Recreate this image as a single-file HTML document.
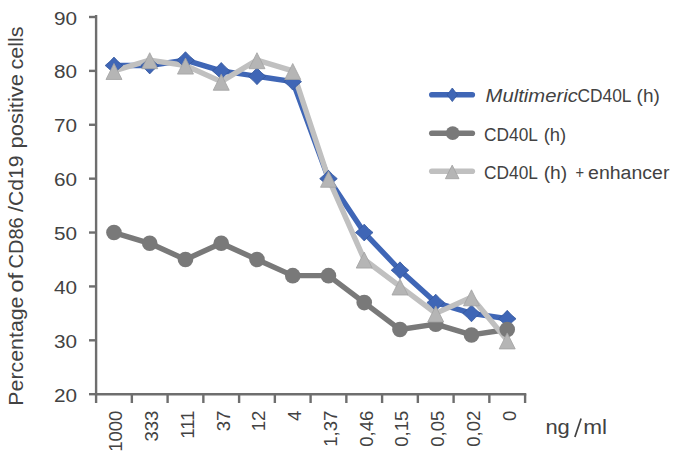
<!DOCTYPE html>
<html><head><meta charset="utf-8"><style>
html,body{margin:0;padding:0;background:#fff;}
body{width:680px;height:462px;overflow:hidden;}
svg{display:block;}
</style></head><body>
<svg width="680" height="462" viewBox="0 0 680 462">
<g stroke="#6E6E6E" stroke-width="2.4" fill="none">
<path d="M96.1,15.1 V394.2"/>
<path d="M89,394.20 H96.1"/>
<path d="M89,340.31 H96.1"/>
<path d="M89,286.43 H96.1"/>
<path d="M89,232.54 H96.1"/>
<path d="M89,178.66 H96.1"/>
<path d="M89,124.77 H96.1"/>
<path d="M89,70.89 H96.1"/>
<path d="M89,17.00 H96.1"/>
<path d="M94.89999999999999,394.2 H526.3000000000001"/>
<path d="M96.10,394.2 V403"/>
<path d="M131.85,394.2 V403"/>
<path d="M167.60,394.2 V403"/>
<path d="M203.35,394.2 V403"/>
<path d="M239.10,394.2 V403"/>
<path d="M274.85,394.2 V403"/>
<path d="M310.60,394.2 V403"/>
<path d="M346.35,394.2 V403"/>
<path d="M382.10,394.2 V403"/>
<path d="M417.85,394.2 V403"/>
<path d="M453.60,394.2 V403"/>
<path d="M489.35,394.2 V403"/>
<path d="M525.10,394.2 V403"/>
</g>
<g font-family="Liberation Sans, sans-serif" font-size="18.5" fill="#424242" text-anchor="end">
<text transform="translate(77.0,401.70) scale(1.12,1)">20</text>
<text transform="translate(77.0,347.81) scale(1.12,1)">30</text>
<text transform="translate(77.0,293.93) scale(1.12,1)">40</text>
<text transform="translate(77.0,240.04) scale(1.12,1)">50</text>
<text transform="translate(77.0,186.16) scale(1.12,1)">60</text>
<text transform="translate(77.0,132.27) scale(1.12,1)">70</text>
<text transform="translate(77.0,78.39) scale(1.12,1)">80</text>
<text transform="translate(77.0,24.50) scale(1.12,1)">90</text>
</g>
<g font-family="Liberation Sans, sans-serif" font-size="18" fill="#424242" text-anchor="end">
<text transform="translate(122.38,410.6) rotate(-90) scale(1.03,1)">1000</text>
<text transform="translate(158.12,410.6) rotate(-90) scale(1.03,1)">333</text>
<text transform="translate(193.88,410.6) rotate(-90) scale(1.03,1)">111</text>
<text transform="translate(229.62,410.6) rotate(-90) scale(1.03,1)">37</text>
<text transform="translate(265.38,410.6) rotate(-90) scale(1.03,1)">12</text>
<text transform="translate(301.12,410.6) rotate(-90) scale(1.03,1)">4</text>
<text transform="translate(336.88,410.6) rotate(-90) scale(1.03,1)">1,37</text>
<text transform="translate(372.62,410.6) rotate(-90) scale(1.03,1)">0,46</text>
<text transform="translate(408.38,410.6) rotate(-90) scale(1.03,1)">0,15</text>
<text transform="translate(444.12,410.6) rotate(-90) scale(1.03,1)">0,05</text>
<text transform="translate(479.88,410.6) rotate(-90) scale(1.03,1)">0,02</text>
<text transform="translate(515.62,410.6) rotate(-90) scale(1.03,1)">0</text>
</g>
<text transform="translate(23.4,405.70) rotate(-90)" font-family="Liberation Sans, sans-serif" font-size="20" fill="#424242" textLength="109.2" lengthAdjust="spacingAndGlyphs">Percentage</text>
<text transform="translate(23.4,292.80) rotate(-90)" font-family="Liberation Sans, sans-serif" font-size="20" fill="#424242" textLength="19.9" lengthAdjust="spacingAndGlyphs">of</text>
<text transform="translate(23.4,268.50) rotate(-90)" font-family="Liberation Sans, sans-serif" font-size="20" fill="#424242" textLength="51.2" lengthAdjust="spacingAndGlyphs">CD86</text>
<text transform="translate(23.4,211.90) rotate(-90)" font-family="Liberation Sans, sans-serif" font-size="20" fill="#424242" textLength="56.4" lengthAdjust="spacingAndGlyphs">/Cd19</text>
<text transform="translate(23.4,148.50) rotate(-90)" font-family="Liberation Sans, sans-serif" font-size="20" fill="#424242" textLength="74.6" lengthAdjust="spacingAndGlyphs">positive</text>
<text transform="translate(23.4,69.60) rotate(-90)" font-family="Liberation Sans, sans-serif" font-size="20" fill="#424242" textLength="43.2" lengthAdjust="spacingAndGlyphs">cells</text>
<polyline points="113.97,65.50 149.72,65.50 185.47,60.11 221.22,70.89 256.98,76.27 292.73,81.66 328.48,178.66 364.23,232.54 399.98,270.26 435.73,302.59 471.48,313.37 507.23,318.76" fill="none" stroke="#3F66B6" stroke-width="5.4" stroke-linejoin="round" stroke-linecap="round"/>
<polyline points="113.97,232.54 149.72,243.32 185.47,259.49 221.22,243.32 256.98,259.49 292.73,275.65 328.48,275.65 364.23,302.59 399.98,329.54 435.73,324.15 471.48,334.93 507.23,329.54" fill="none" stroke="#797979" stroke-width="5.4" stroke-linejoin="round" stroke-linecap="round"/>
<polyline points="113.97,70.89 149.72,60.11 185.47,65.50 221.22,81.66 256.98,60.11 292.73,70.89 328.48,178.66 364.23,259.49 399.98,286.43 435.73,313.37 471.48,297.21 507.23,340.31" fill="none" stroke="#C0C0C0" stroke-width="5.4" stroke-linejoin="round" stroke-linecap="round"/>
<path d="M113.97,57.10 Q117.93,61.72 122.77,65.50 Q117.93,69.28 113.97,73.90 Q110.02,69.28 105.17,65.50 Q110.02,61.72 113.97,57.10Z" fill="#3F66B6" stroke="#34579C" stroke-width="0.8" stroke-linejoin="round"/>
<path d="M149.72,57.10 Q153.69,61.72 158.53,65.50 Q153.69,69.28 149.72,73.90 Q145.76,69.28 140.92,65.50 Q145.76,61.72 149.72,57.10Z" fill="#3F66B6" stroke="#34579C" stroke-width="0.8" stroke-linejoin="round"/>
<path d="M185.47,51.71 Q189.44,56.33 194.28,60.11 Q189.44,63.89 185.47,68.51 Q181.51,63.89 176.67,60.11 Q181.51,56.33 185.47,51.71Z" fill="#3F66B6" stroke="#34579C" stroke-width="0.8" stroke-linejoin="round"/>
<path d="M221.22,62.49 Q225.19,67.11 230.03,70.89 Q225.19,74.67 221.22,79.29 Q217.26,74.67 212.42,70.89 Q217.26,67.11 221.22,62.49Z" fill="#3F66B6" stroke="#34579C" stroke-width="0.8" stroke-linejoin="round"/>
<path d="M256.98,67.87 Q260.94,72.49 265.78,76.27 Q260.94,80.05 256.98,84.67 Q253.02,80.05 248.18,76.27 Q253.02,72.49 256.98,67.87Z" fill="#3F66B6" stroke="#34579C" stroke-width="0.8" stroke-linejoin="round"/>
<path d="M292.73,73.26 Q296.69,77.88 301.53,81.66 Q296.69,85.44 292.73,90.06 Q288.77,85.44 283.93,81.66 Q288.77,77.88 292.73,73.26Z" fill="#3F66B6" stroke="#34579C" stroke-width="0.8" stroke-linejoin="round"/>
<path d="M328.48,170.26 Q332.44,174.88 337.28,178.66 Q332.44,182.44 328.48,187.06 Q324.52,182.44 319.68,178.66 Q324.52,174.88 328.48,170.26Z" fill="#3F66B6" stroke="#34579C" stroke-width="0.8" stroke-linejoin="round"/>
<path d="M364.23,224.14 Q368.19,228.76 373.03,232.54 Q368.19,236.32 364.23,240.94 Q360.27,236.32 355.43,232.54 Q360.27,228.76 364.23,224.14Z" fill="#3F66B6" stroke="#34579C" stroke-width="0.8" stroke-linejoin="round"/>
<path d="M399.98,261.86 Q403.94,266.48 408.78,270.26 Q403.94,274.04 399.98,278.66 Q396.02,274.04 391.18,270.26 Q396.02,266.48 399.98,261.86Z" fill="#3F66B6" stroke="#34579C" stroke-width="0.8" stroke-linejoin="round"/>
<path d="M435.73,294.19 Q439.69,298.81 444.53,302.59 Q439.69,306.37 435.73,310.99 Q431.77,306.37 426.93,302.59 Q431.77,298.81 435.73,294.19Z" fill="#3F66B6" stroke="#34579C" stroke-width="0.8" stroke-linejoin="round"/>
<path d="M471.48,304.97 Q475.44,309.59 480.28,313.37 Q475.44,317.15 471.48,321.77 Q467.52,317.15 462.68,313.37 Q467.52,309.59 471.48,304.97Z" fill="#3F66B6" stroke="#34579C" stroke-width="0.8" stroke-linejoin="round"/>
<path d="M507.23,310.36 Q511.19,314.98 516.02,318.76 Q511.19,322.54 507.23,327.16 Q503.27,322.54 498.43,318.76 Q503.27,314.98 507.23,310.36Z" fill="#3F66B6" stroke="#34579C" stroke-width="0.8" stroke-linejoin="round"/>
<circle cx="113.97" cy="232.54" r="7.8" fill="#797979"/>
<circle cx="149.72" cy="243.32" r="7.8" fill="#797979"/>
<circle cx="185.47" cy="259.49" r="7.8" fill="#797979"/>
<circle cx="221.22" cy="243.32" r="7.8" fill="#797979"/>
<circle cx="256.98" cy="259.49" r="7.8" fill="#797979"/>
<circle cx="292.73" cy="275.65" r="7.8" fill="#797979"/>
<circle cx="328.48" cy="275.65" r="7.8" fill="#797979"/>
<circle cx="364.23" cy="302.59" r="7.8" fill="#797979"/>
<circle cx="399.98" cy="329.54" r="7.8" fill="#797979"/>
<circle cx="435.73" cy="324.15" r="7.8" fill="#797979"/>
<circle cx="471.48" cy="334.93" r="7.8" fill="#797979"/>
<circle cx="507.23" cy="329.54" r="7.8" fill="#797979"/>
<path d="M113.97,63.49 L121.97,79.49 L105.97,79.49Z" fill="#B5B5B5" stroke="#A2A2A2" stroke-width="0.8" stroke-linejoin="round"/>
<path d="M149.72,52.71 L157.72,68.71 L141.72,68.71Z" fill="#B5B5B5" stroke="#A2A2A2" stroke-width="0.8" stroke-linejoin="round"/>
<path d="M185.47,58.10 L193.47,74.10 L177.47,74.10Z" fill="#B5B5B5" stroke="#A2A2A2" stroke-width="0.8" stroke-linejoin="round"/>
<path d="M221.22,74.26 L229.22,90.26 L213.22,90.26Z" fill="#B5B5B5" stroke="#A2A2A2" stroke-width="0.8" stroke-linejoin="round"/>
<path d="M256.98,52.71 L264.98,68.71 L248.98,68.71Z" fill="#B5B5B5" stroke="#A2A2A2" stroke-width="0.8" stroke-linejoin="round"/>
<path d="M292.73,63.49 L300.73,79.49 L284.73,79.49Z" fill="#B5B5B5" stroke="#A2A2A2" stroke-width="0.8" stroke-linejoin="round"/>
<path d="M328.48,171.26 L336.48,187.26 L320.48,187.26Z" fill="#B5B5B5" stroke="#A2A2A2" stroke-width="0.8" stroke-linejoin="round"/>
<path d="M364.23,252.09 L372.23,268.09 L356.23,268.09Z" fill="#B5B5B5" stroke="#A2A2A2" stroke-width="0.8" stroke-linejoin="round"/>
<path d="M399.98,279.03 L407.98,295.03 L391.98,295.03Z" fill="#B5B5B5" stroke="#A2A2A2" stroke-width="0.8" stroke-linejoin="round"/>
<path d="M435.73,305.97 L443.73,321.97 L427.73,321.97Z" fill="#B5B5B5" stroke="#A2A2A2" stroke-width="0.8" stroke-linejoin="round"/>
<path d="M471.48,289.81 L479.48,305.81 L463.48,305.81Z" fill="#B5B5B5" stroke="#A2A2A2" stroke-width="0.8" stroke-linejoin="round"/>
<path d="M507.23,332.91 L515.23,348.91 L499.23,348.91Z" fill="#B5B5B5" stroke="#A2A2A2" stroke-width="0.8" stroke-linejoin="round"/>
<path d="M431.8,94.8 H472.3" stroke="#3F66B6" stroke-width="5.6" stroke-linecap="round"/>
<path d="M452.30,88.00 Q454.90,91.40 457.50,94.80 Q454.90,98.20 452.30,101.60 Q449.70,98.20 447.10,94.80 Q449.70,91.40 452.30,88.00Z" fill="#3F66B6" stroke="#34579C" stroke-width="0.8" stroke-linejoin="round"/>
<path d="M431.8,133.2 H472.3" stroke="#797979" stroke-width="5.6" stroke-linecap="round"/>
<circle cx="452.70" cy="133.20" r="6.9" fill="#797979"/>
<path d="M431.8,171.3 H472.3" stroke="#C0C0C0" stroke-width="5.6" stroke-linecap="round"/>
<path d="M452.20,165.10 L459.00,178.70 L445.40,178.70Z" fill="#B5B5B5" stroke="#A2A2A2" stroke-width="0.8" stroke-linejoin="round"/>
<text x="485.6" y="102.1" font-family="Liberation Sans, sans-serif" font-size="18" fill="#424242" font-style="italic" textLength="92.2" lengthAdjust="spacingAndGlyphs">Multimeric</text>
<text x="577.5" y="102.1" font-family="Liberation Sans, sans-serif" font-size="18" fill="#424242" textLength="54.0" lengthAdjust="spacingAndGlyphs">CD40L</text>
<text x="636.6" y="102.1" font-family="Liberation Sans, sans-serif" font-size="18" fill="#424242" textLength="23.2" lengthAdjust="spacingAndGlyphs">(h)</text>
<text x="484.1" y="140.6" font-family="Liberation Sans, sans-serif" font-size="18" fill="#424242" textLength="53.8" lengthAdjust="spacingAndGlyphs">CD40L</text>
<text x="543.7" y="140.6" font-family="Liberation Sans, sans-serif" font-size="18" fill="#424242" textLength="22.5" lengthAdjust="spacingAndGlyphs">(h)</text>
<text x="484.1" y="178.8" font-family="Liberation Sans, sans-serif" font-size="18" fill="#424242" textLength="53.8" lengthAdjust="spacingAndGlyphs">CD40L</text>
<text x="543.7" y="178.8" font-family="Liberation Sans, sans-serif" font-size="18" fill="#424242" textLength="23.5" lengthAdjust="spacingAndGlyphs">(h)</text>
<text x="575.5" y="178.8" font-family="Liberation Sans, sans-serif" font-size="18" fill="#424242" textLength="8.6" lengthAdjust="spacingAndGlyphs">+</text>
<text x="588.1" y="178.8" font-family="Liberation Sans, sans-serif" font-size="18" fill="#424242" textLength="81.3" lengthAdjust="spacingAndGlyphs">enhancer</text>
<text x="545.4" y="434.4" font-family="Liberation Sans, sans-serif" font-size="20" fill="#424242" textLength="24.4" lengthAdjust="spacingAndGlyphs">ng</text>
<text x="583.3" y="434.4" font-family="Liberation Sans, sans-serif" font-size="20" fill="#424242" textLength="23.8" lengthAdjust="spacingAndGlyphs">ml</text>
<path d="M574.9,436.9 L581.1,418.4" stroke="#424242" stroke-width="1.7" stroke-linecap="butt"/>
</svg>
</body></html>
